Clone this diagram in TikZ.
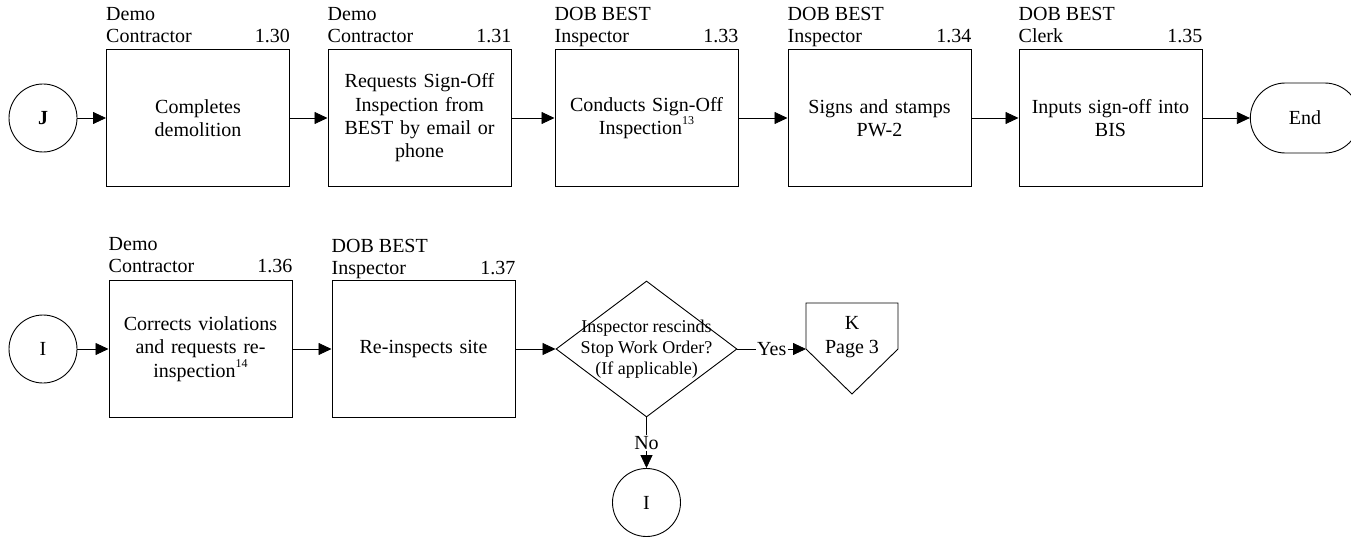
\documentclass[tikz,border=0pt]{standalone}
\usepackage{fontspec}
\setmainfont{Liberation Serif}
\usetikzlibrary{arrows.meta,shapes.geometric,shapes.misc}
% small raised footnote marks inside the step boxes
\newcommand{\fnmark}[1]{\raisebox{0.5em}{\fontsize{12}{12}\selectfont #1}}
% two-line role caption whose baseline is its last line
\newcommand{\roletext}[1]{\begin{tabular}[b]{@{}l@{}}#1\end{tabular}}

\begin{document}
\begin{tikzpicture}[x=1pt,y=-1pt,
  every node/.style={font=\fontsize{20}{23.3}\selectfont},
  proc/.style={draw, line width=1pt, minimum width=183pt, minimum height=137pt,
               inner sep=0pt, text width=174pt, align=center},
  conn/.style={draw, circle, line width=0.9pt, minimum size=68pt, inner sep=0pt},
  role/.style={anchor=base west, inner sep=0pt, font=\fontsize{20}{22}\selectfont},
  stepno/.style={anchor=base east, inner sep=0pt},
  flow/.style={line width=0.8pt, -{Triangle[length=13pt,width=12pt]}},
  tag/.style={fill=white, inner sep=1.5pt}
]
\useasboundingbox (0,0) rectangle (1351,540);

% ---------- top row ----------
\node[conn] (j) at (43,118) {\textbf{J}};
\node[proc] (b1) at (198,118)    {Completes\\demolition};
\node[proc] (b2) at (419.5,118)  {Requests Sign-Off\\Inspection from\\BEST by email or\\phone};
\node[proc] (b3) at (646.5,118)  {Conducts Sign-Off\\Inspection\fnmark{13}};
\node[proc] (b4) at (879.5,118)  {Signs and stamps\\PW-2};
\node[proc] (b5) at (1110.5,118) {Inputs sign-off into\\BIS};
\node[draw, rounded rectangle, line width=0.9pt, minimum width=116pt, minimum height=70pt]
  (end) at (1305,118) {End};

\node[role]   (r1) at ([yshift=6pt]b1.north west) {\roletext{Demo\\Contractor}};
\node[stepno] (n1) at ([yshift=6pt]b1.north east) {1.30};
\node[role]   (r2) at ([yshift=6pt]b2.north west) {\roletext{Demo\\Contractor}};
\node[stepno] (n2) at ([yshift=6pt]b2.north east) {1.31};
\node[role]   (r3) at ([yshift=6pt]b3.north west) {\roletext{DOB BEST\\Inspector}};
\node[stepno] (n3) at ([yshift=6pt]b3.north east) {1.33};
\node[role]   (r4) at ([yshift=6pt]b4.north west) {\roletext{DOB BEST\\Inspector}};
\node[stepno] (n4) at ([yshift=6pt]b4.north east) {1.34};
\node[role]   (r5) at ([yshift=6pt]b5.north west) {\roletext{DOB BEST\\Clerk}};
\node[stepno] (n5) at ([yshift=6pt]b5.north east) {1.35};

\draw[flow] (j) -- (b1);
\draw[flow] (b1) -- (b2);
\draw[flow] (b2) -- (b3);
\draw[flow] (b3) -- (b4);
\draw[flow] (b4) -- (b5);
\draw[flow] (b5) -- (end);

% ---------- bottom row ----------
\node[conn] (i1) at (43,349) {I};
\node[proc] (b6) at (200.5,349) {Corrects violations\\and requests re-\\inspection\fnmark{14}};
\node[proc] (b7) at (423.5,349) {Re-inspects site};

\node[role]   (r6) at ([yshift=8pt]b6.north west) {\roletext{Demo\\Contractor}};
\node[stepno] (n6) at ([yshift=8pt]b6.north east) {1.36};
\node[role]   (r7) at ([yshift=6pt]b7.north west) {\roletext{DOB BEST\\Inspector}};
\node[stepno] (n7) at ([yshift=6pt]b7.north east) {1.37};

% decision
\node[diamond, draw, line width=0.9pt, minimum width=181pt, minimum height=136pt, inner sep=0pt]
  (dec) at (646.5,349) {};
\node[align=center, inner sep=0pt, font=\fontsize{18}{21}\selectfont] (dectext) at (dec.center)
  {Inspector rescinds\\Stop Work Order?\\(If applicable)};

% off-page connector to page 3
\coordinate (kw) at (806,349);
\draw[line width=0.9pt] (kw) -- (806,303) -- (898,303) -- (898,349) -- (852,394) -- cycle;
\node[align=center, inner sep=0pt, font=\fontsize{20}{24}\selectfont] (k) at (852,337) {K\\Page 3};

\node[conn] (i2) at (646.5,502.5) {I};

\draw[flow] (i1) -- (b6);
\draw[flow] (b6) -- (b7);
\draw[flow] (b7) -- (dec);
\draw[flow] (dec.east) -- node[tag] {Yes} (kw);
\draw[flow] (dec.south) -- node[tag] {No} (i2);
\end{tikzpicture}
\end{document}
